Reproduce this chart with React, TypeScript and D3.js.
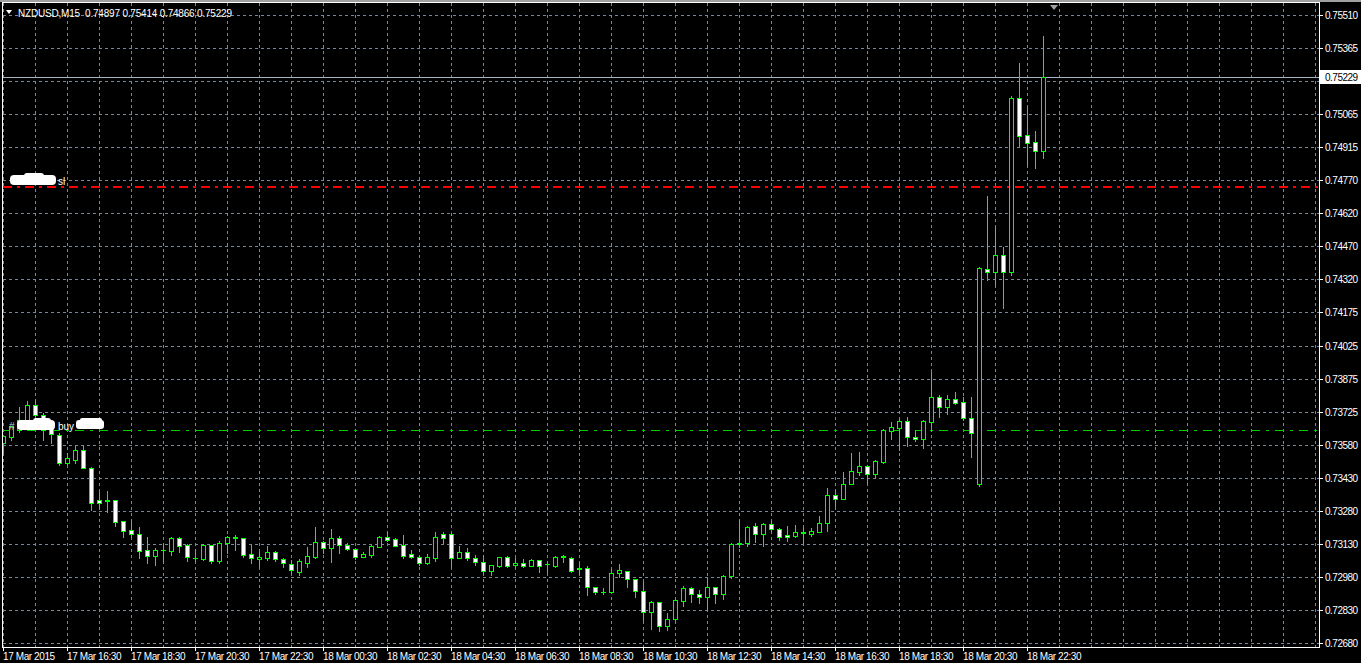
import React from 'react';
import * as d3 from 'd3';

// ---- data (NZDUSD M15, 17 Mar 2015 14:30 -> 18 Mar 2015 23:00) ----
const symbolTitle = 'NZDUSD,M15';
const titleValues = ['0.74897', '0.75414', '0.74866', '0.75229'];

const openP = [
  0.73581, 0.73608, 0.73640, 0.73685, 0.73753, 0.73707, 0.73653, 0.73617, 0.73491, 0.73505,
  0.73550, 0.73469, 0.73324, 0.73324, 0.73324, 0.73230, 0.73189, 0.73171, 0.73099, 0.73072,
  0.73099, 0.73095, 0.73153, 0.73122, 0.73063, 0.73059, 0.73122, 0.73050, 0.73131, 0.73153,
  0.73153, 0.73081, 0.73059, 0.73063, 0.73090, 0.73059, 0.73036, 0.73000, 0.73041, 0.73068,
  0.73135, 0.73108, 0.73153, 0.73122, 0.73104, 0.73068, 0.73077, 0.73113, 0.73158, 0.73149,
  0.73122, 0.73081, 0.73068, 0.73041, 0.73063, 0.73171, 0.73171, 0.73063, 0.73090, 0.73063,
  0.73045, 0.73004, 0.73027, 0.73068, 0.73032, 0.73041, 0.73027, 0.73054, 0.73036, 0.73027,
  0.73068, 0.73063, 0.73013, 0.73018, 0.72932, 0.72910, 0.72910, 0.72995, 0.73004, 0.72968,
  0.72914, 0.72820, 0.72865, 0.72757, 0.72788, 0.72869, 0.72928, 0.72901, 0.72887, 0.72932,
  0.72901, 0.72982, 0.73126, 0.73131, 0.73207, 0.73171, 0.73216, 0.73194, 0.73167, 0.73162,
  0.73176, 0.73171, 0.73180, 0.73221, 0.73347, 0.73329, 0.73397, 0.73451, 0.73478, 0.73442,
  0.73496, 0.73635, 0.73649, 0.73680, 0.73608, 0.73599, 0.73676, 0.73789, 0.73744, 0.73780,
  0.73766, 0.73694, 0.73397, 0.74365, 0.74352, 0.74428, 0.74352, 0.75136, 0.74969, 0.74938,
  0.74897,
];
const highP = [
  0.73613, 0.73658, 0.73744, 0.73771, 0.73780, 0.73716, 0.73662, 0.73626, 0.73536, 0.73568,
  0.73568, 0.73473, 0.73360, 0.73365, 0.73326, 0.73232, 0.73230, 0.73203, 0.73158, 0.73108,
  0.73131, 0.73156, 0.73156, 0.73126, 0.73104, 0.73126, 0.73122, 0.73140, 0.73160, 0.73167,
  0.73155, 0.73122, 0.73090, 0.73117, 0.73095, 0.73063, 0.73054, 0.73059, 0.73113, 0.73203,
  0.73140, 0.73194, 0.73162, 0.73131, 0.73106, 0.73090, 0.73122, 0.73162, 0.73180, 0.73151,
  0.73167, 0.73099, 0.73070, 0.73081, 0.73180, 0.73180, 0.73176, 0.73117, 0.73108, 0.73077,
  0.73077, 0.73032, 0.73068, 0.73070, 0.73063, 0.73059, 0.73059, 0.73056, 0.73045, 0.73072,
  0.73077, 0.73068, 0.73041, 0.73027, 0.72934, 0.72928, 0.73013, 0.73036, 0.73006, 0.72970,
  0.72955, 0.72869, 0.72867, 0.72815, 0.72878, 0.72937, 0.72932, 0.72919, 0.72973, 0.72934,
  0.72986, 0.73131, 0.73234, 0.73207, 0.73221, 0.73221, 0.73230, 0.73196, 0.73207, 0.73212,
  0.73203, 0.73199, 0.73252, 0.73379, 0.73369, 0.73451, 0.73536, 0.73541, 0.73480, 0.73505,
  0.73644, 0.73676, 0.73685, 0.73698, 0.73640, 0.73685, 0.73901, 0.73798, 0.73798, 0.73811,
  0.73789, 0.73789, 0.74374, 0.74694, 0.74555, 0.74465, 0.75145, 0.75294, 0.75095, 0.74987,
  0.75414,
];
const lowP = [
  0.73536, 0.73595, 0.73631, 0.73680, 0.73703, 0.73595, 0.73581, 0.73482, 0.73487, 0.73491,
  0.73469, 0.73279, 0.73293, 0.73270, 0.73207, 0.73158, 0.73158, 0.73063, 0.73041, 0.73032,
  0.73041, 0.73077, 0.73090, 0.73050, 0.73050, 0.73054, 0.73041, 0.73041, 0.73086, 0.73099,
  0.73068, 0.73041, 0.73027, 0.73054, 0.73050, 0.73022, 0.72995, 0.72986, 0.73022, 0.73063,
  0.73086, 0.73045, 0.73086, 0.73099, 0.73059, 0.73066, 0.73068, 0.73111, 0.73140, 0.73115,
  0.73063, 0.73063, 0.73032, 0.73036, 0.73050, 0.73131, 0.73027, 0.73063, 0.73054, 0.73032,
  0.72995, 0.72986, 0.73022, 0.73022, 0.73022, 0.73022, 0.73025, 0.73000, 0.73000, 0.73022,
  0.73045, 0.73000, 0.72991, 0.72896, 0.72901, 0.72901, 0.72908, 0.72977, 0.72932, 0.72887,
  0.72784, 0.72743, 0.72734, 0.72739, 0.72784, 0.72847, 0.72865, 0.72860, 0.72829, 0.72860,
  0.72878, 0.72973, 0.73113, 0.73117, 0.73135, 0.73117, 0.73185, 0.73144, 0.73140, 0.73158,
  0.73131, 0.73162, 0.73180, 0.73185, 0.73297, 0.73327, 0.73395, 0.73437, 0.73401, 0.73428,
  0.73491, 0.73599, 0.73550, 0.73568, 0.73590, 0.73559, 0.73635, 0.73698, 0.73712, 0.73758,
  0.73685, 0.73518, 0.73388, 0.74316, 0.74293, 0.74190, 0.74338, 0.74920, 0.74834, 0.74821,
  0.74866,
];
const closeP = [
  0.73613, 0.73658, 0.73685, 0.73753, 0.73707, 0.73640, 0.73622, 0.73491, 0.73514, 0.73550,
  0.73469, 0.73311, 0.73311, 0.73322, 0.73225, 0.73185, 0.73171, 0.73095, 0.73072, 0.73099,
  0.73099, 0.73153, 0.73117, 0.73068, 0.73061, 0.73122, 0.73050, 0.73131, 0.73158, 0.73156,
  0.73077, 0.73063, 0.73068, 0.73090, 0.73059, 0.73041, 0.73009, 0.73050, 0.73072, 0.73135,
  0.73108, 0.73153, 0.73122, 0.73104, 0.73068, 0.73081, 0.73117, 0.73158, 0.73144, 0.73117,
  0.73072, 0.73068, 0.73041, 0.73068, 0.73158, 0.73153, 0.73063, 0.73090, 0.73063, 0.73045,
  0.73004, 0.73032, 0.73068, 0.73027, 0.73041, 0.73027, 0.73054, 0.73027, 0.73034, 0.73068,
  0.73070, 0.73004, 0.73018, 0.72932, 0.72910, 0.72912, 0.72995, 0.73009, 0.72968, 0.72914,
  0.72820, 0.72865, 0.72757, 0.72788, 0.72874, 0.72928, 0.72901, 0.72887, 0.72932, 0.72901,
  0.72982, 0.73126, 0.73131, 0.73203, 0.73171, 0.73216, 0.73194, 0.73158, 0.73158, 0.73180,
  0.73178, 0.73185, 0.73221, 0.73347, 0.73329, 0.73397, 0.73455, 0.73478, 0.73442, 0.73500,
  0.73640, 0.73653, 0.73680, 0.73608, 0.73599, 0.73680, 0.73789, 0.73744, 0.73780, 0.73762,
  0.73694, 0.73626, 0.74370, 0.74352, 0.74428, 0.74352, 0.75136, 0.74965, 0.74933, 0.74897,
  0.75229,
];

// '' = label hidden behind the current-price box
const yTickLabels = [
  '0.72680', '0.72830', '0.72980', '0.73130', '0.73280', '0.73430', '0.73580', '0.73725',
  '0.73875', '0.74025', '0.74175', '0.74320', '0.74470', '0.74620', '0.74770', '0.74915',
  '0.75065', '', '0.75365', '0.75510',
];
const xTickLabels = [
  '17 Mar 2015', '17 Mar 16:30', '17 Mar 18:30', '17 Mar 20:30', '17 Mar 22:30',
  '18 Mar 00:30', '18 Mar 02:30', '18 Mar 04:30', '18 Mar 06:30', '18 Mar 08:30',
  '18 Mar 10:30', '18 Mar 12:30', '18 Mar 14:30', '18 Mar 16:30', '18 Mar 18:30',
  '18 Mar 20:30', '18 Mar 22:30',
];
const xTickBars = [0, 8, 16, 24, 32, 40, 48, 56, 64, 72, 80, 88, 96, 104, 112, 120, 128];

const priceMin = 0.7268;
const priceMax = 0.7551;
const currentPrice = 0.75229;
const slPrice = 0.74739;
const buyPrice = 0.7364;

// ---- layout ----
const W = 1361;
const H = 663;
const L = 2;
const R = 1319;
const T = 2;
const B = 647;
const GREEN = '#00ff00';
const GRID = '#778899';
const FONT = '"Liberation Sans", Arial, sans-serif';

export default function App() {
  const x = d3.scaleLinear().domain([0, 130]).range([3, 1043]);
  const y = d3.scaleLinear().domain([priceMin, priceMax]).range([643, 15]);
  const gridVals = d3.range(yTickLabels.length).map(
    (k) => priceMin + (k * (priceMax - priceMin)) / (yTickLabels.length - 1)
  );
  const vGrid = d3.range(3, R, 32);

  const py = (p: number) => Math.round(y(p)) + 0.5;

  return (
    <svg
      width={W}
      height={H}
      style={{ position: 'absolute', left: 0, top: 0, display: 'block' }}
      shapeRendering="crispEdges"
    >
      <defs>
        <clipPath id="plot">
          <rect x={L + 1} y={T + 1} width={R - L - 1} height={B - T - 1} />
        </clipPath>
      </defs>
      <rect x={0} y={0} width={W} height={H} fill="#000" />
      <rect x={0} y={0} width={W} height={2} fill="#a0a0a0" />

      {/* grid */}
      <g stroke={GRID} strokeWidth={1} strokeDasharray="3,3">
        {gridVals.map((v, k) => (
          <line key={'h' + k} x1={L + 1} x2={R} y1={py(v)} y2={py(v)} />
        ))}
        {vGrid.map((gx, k) => (
          <line key={'v' + k} x1={gx + 0.5} x2={gx + 0.5} y1={T + 1} y2={B} />
        ))}
      </g>

      {/* order lines */}
      <line x1={L + 1} x2={R} y1={py(slPrice)} y2={py(slPrice)} stroke="#ff0000" strokeWidth={2} strokeDasharray="9,5,3,5" />
      <line x1={L + 1} x2={R} y1={py(buyPrice)} y2={py(buyPrice)} stroke="#00d000" strokeWidth={1} strokeDasharray="9,6,3,6" />
      {/* current price line */}
      <line x1={L + 1} x2={R} y1={py(currentPrice)} y2={py(currentPrice)} stroke="#a9b4c2" strokeWidth={1} />

      {/* candles */}
      <g clipPath="url(#plot)">
        {openP.map((o, i) => {
          const cx = Math.round(x(i));
          const c = closeP[i];
          const yo = Math.round(y(o));
          const yc = Math.round(y(c));
          const yh = Math.round(y(highP[i]));
          const yl = Math.round(y(lowP[i]));
          const top = Math.min(yo, yc);
          const bot = Math.max(yo, yc);
          const bull = c > o;
          return (
            <g key={i}>
              <line x1={cx + 0.5} x2={cx + 0.5} y1={yh} y2={yl + 1} stroke={GREEN} />
              {bot - top < 1 ? (
                <line x1={cx - 2} x2={cx + 3} y1={top + 0.5} y2={top + 0.5} stroke={GREEN} />
              ) : (
                <rect
                  x={cx - 1.5}
                  y={top + 0.5}
                  width={4}
                  height={bot - top}
                  fill={bull ? '#000' : '#fff'}
                  stroke={GREEN}
                />
              )}
            </g>
          );
        })}
      </g>

      {/* annotation labels (with the white scribbles) */}
      <g fontFamily={FONT} fontSize={10} fill="#fff" shapeRendering="auto">
        <text x={58} y={185}>sl</text>
        <rect x={10} y={175} width={46} height={10} rx={4} fill="#fff" />
        <rect x={24} y={173} width={20} height={6} rx={3} fill="#fff" />
        <text x={9} y={430} fill="#c8c8c8">#</text>
        <text x={58} y={430}>buy</text>
        <rect x={17} y={420} width={38} height={10} rx={4} fill="#fff" />
        <rect x={33} y={418} width={18} height={6} rx={3} fill="#fff" />
        <rect x={76} y={420} width={28} height={9} rx={3} fill="#fff" />
        <rect x={80} y={418} width={22} height={5} rx={2} fill="#fff" />
      </g>

      {/* frame */}
      <g stroke="#fff" strokeWidth={1}>
        <line x1={L + 0.5} x2={L + 0.5} y1={T} y2={B + 1} />
        <line x1={R + 0.5} x2={R + 0.5} y1={T} y2={B + 1} />
        <line x1={L} x2={R + 1} y1={T + 0.5} y2={T + 0.5} />
        <line x1={L} x2={R + 1} y1={B + 0.5} y2={B + 0.5} />
      </g>

      {/* y axis */}
      <g fontFamily={FONT} fontSize={10} letterSpacing={-0.5} fill="#fff">
        {gridVals.map((v, k) => (
          <g key={'yl' + k}>
            <line x1={R + 1} x2={R + 4} y1={py(v)} y2={py(v)} stroke="#fff" />
            {yTickLabels[k] ? (
              <text x={1325} y={Math.round(y(v)) + 4}>{yTickLabels[k]}</text>
            ) : null}
          </g>
        ))}
      </g>
      {/* current price box */}
      <rect x={R + 1} y={Math.round(y(currentPrice)) - 7} width={W - R - 1} height={14} fill="#fff" />
      <text
        x={1325}
        y={Math.round(y(currentPrice)) + 4}
        fontFamily={FONT}
        fontSize={10}
        letterSpacing={-0.5}
        fill="#000"
      >
        {currentPrice.toFixed(5)}
      </text>

      {/* x axis */}
      <g fontFamily={FONT} fontSize={10} letterSpacing={-0.4} fill="#fff">
        {xTickBars.map((b, k) => {
          const tx = Math.round(x(b));
          return (
            <g key={'xl' + k}>
              <line x1={tx + 0.5} x2={tx + 0.5} y1={B + 1} y2={B + 4} stroke="#fff" />
              <text x={tx} y={660}>{xTickLabels[k]}</text>
            </g>
          );
        })}
      </g>

      {/* title */}
      <path d="M6,10 L12,10 L9,14 Z" fill="#fff" shapeRendering="auto" />
      <text
        x={18}
        y={17}
        fontFamily={FONT}
        fontSize={10}
        letterSpacing={-0.2}
        fill="#fff"
        style={{ whiteSpace: 'pre' }}
      >
        {symbolTitle + '  ' + titleValues.join(' ')}
      </text>
      {/* chart shift marker */}
      <path d="M1050,5 L1058,5 L1054,10 Z" fill="#a0a0a0" shapeRendering="auto" />
    </svg>
  );
}
